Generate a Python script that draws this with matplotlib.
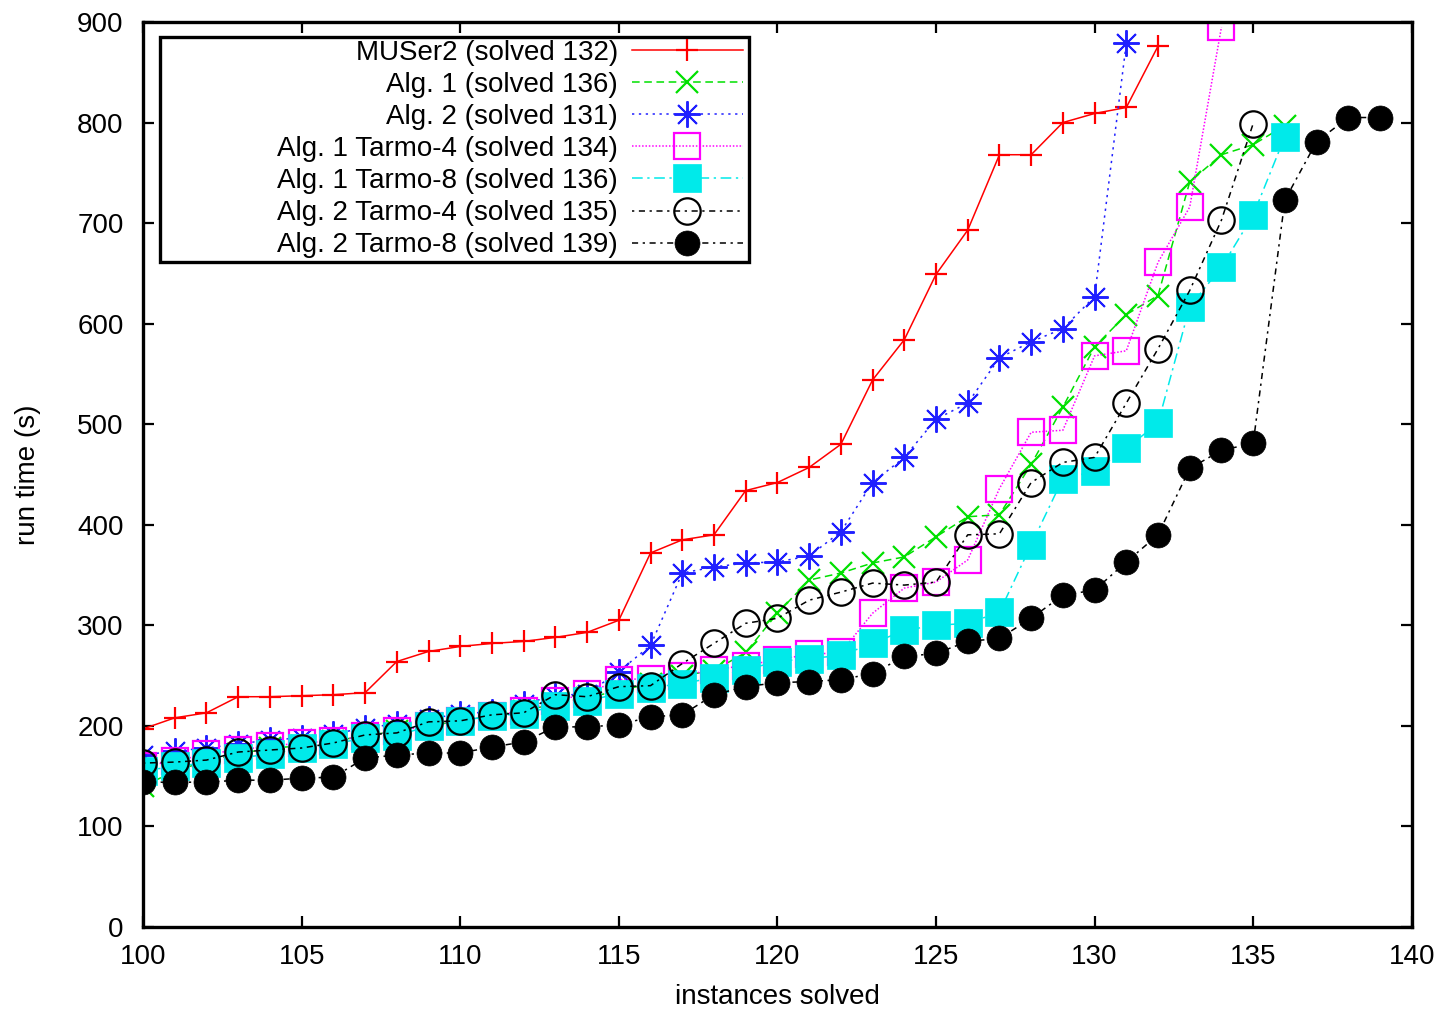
import numpy as np
import matplotlib.pyplot as plt
from matplotlib.patches import Rectangle

plt.rcParams['font.family'] = ['Liberation Sans', 'DejaVu Sans']

# run time (s) per instance count
muser2 = [197, 208, 213, 229, 229, 230, 231, 233, 264, 274, 279, 282, 284, 288, 293, 305,
          372, 385, 390, 434, 442, 457, 480, 544, 584, 649, 693, 768, 768, 800, 809, 815, 876]
alg1 = [140, 155, 165, 172, 178, 180, 185, 190, 195, 200, 205, 210, 215, 222, 228, 235,
        242, 250, 255, 273, 312, 345, 352, 362, 368, 388, 408, 410, 460, 517, 577, 609,
        628, 741, 768, 778, 797]
alg2 = [171, 175, 178, 182, 186, 188, 192, 198, 202, 207, 212, 214, 222, 230, 232, 254,
        280, 352, 358, 362, 363, 369, 393, 442, 467, 505, 521, 566, 582, 595, 627, 879]
alg1_t4 = [160, 165, 172, 176, 180, 183, 185, 190, 195, 200, 205, 210, 215, 225, 232, 246,
           247, 250, 256, 260, 266, 271, 273, 312, 337, 343, 365, 436, 492, 494, 568, 573,
           661, 716, 895]
alg1_t8 = [155, 160, 163, 168, 172, 178, 182, 188, 190, 200, 205, 210, 212, 220, 225, 232,
           238, 242, 248, 256, 264, 267, 270, 282, 295, 300, 302, 313, 380, 446, 453, 476,
           501, 617, 656, 708, 786]
alg2_t4 = [163, 164, 166, 174, 176, 178, 183, 191, 193, 204, 205, 211, 213, 231, 229, 239,
           240, 262, 282, 302, 307, 325, 333, 342, 340, 343, 390, 391, 442, 462, 467, 521,
           575, 633, 703, 799]
alg2_t8 = [144, 144, 144, 146, 146, 148, 149, 168, 171, 173, 173, 179, 184, 199, 199, 201,
           209, 211, 231, 239, 243, 244, 246, 252, 269, 272, 284, 287, 307, 330, 335, 363,
           390, 456, 474, 481, 723, 781, 805, 805]

labels = ['MUSer2 (solved 132)', 'Alg. 1 (solved 136)', 'Alg. 2 (solved 131)',
          'Alg. 1 Tarmo-4 (solved 134)', 'Alg. 1 Tarmo-8 (solved 136)',
          'Alg. 2 Tarmo-4 (solved 135)', 'Alg. 2 Tarmo-8 (solved 139)']

series = [muser2, alg1, alg2, alg1_t4, alg1_t8, alg2_t4, alg2_t8]

# gnuplot-ish styles: color, linestyle, marker, size, filled
styles = [
    dict(color='#ff0000', ls='-', marker='+', ms=16, mew=1.6, mfc='none'),
    dict(color='#00e000', ls=(0, (5, 3)), marker='x', ms=16, mew=1.6, mfc='none'),
    dict(color='#2020ff', ls=(0, (1.5, 3)), marker=(8, 2, 0), ms=19, mew=1.4, mfc='none'),
    dict(color='#ff00ff', ls=(0, (1, 1.2)), marker='s', ms=19, mew=1.6, mfc='none'),
    dict(color='#00eaea', ls=(0, (7, 3, 1.5, 3)), marker='s', ms=20, mew=0.5, mfc='#00eaea'),
    dict(color='black', ls=(0, (1.5, 3, 4, 3)), marker='o', ms=19, mew=1.6, mfc='none'),
    dict(color='black', ls=(0, (4, 3, 1.5, 3)), marker='o', ms=18, mew=0.5, mfc='black'),
]

FS = 20

fig = plt.figure(figsize=(14.45, 10.18), dpi=100)
ax = fig.add_axes([0.099, 0.0894, 0.878, 0.889])

for vals, lab, st in zip(series, labels, styles):
    xs = np.arange(100, 100 + len(vals))
    ax.plot(xs, vals, color=st['color'], linestyle=st['ls'], lw=1.1,
            marker=st['marker'], markersize=st['ms'], markeredgewidth=st['mew'],
            markerfacecolor=st['mfc'], markeredgecolor=st['color'],
            label=lab, clip_on=True)

ax.set_xlim(100, 140)
ax.set_ylim(0, 900)
ax.set_xticks(range(100, 141, 5))
ax.set_yticks(range(0, 901, 100))
ax.tick_params(direction='in', length=8, width=1.6, labelsize=FS, top=True, right=True)
ax.tick_params(axis='x', pad=12)
ax.tick_params(axis='y', pad=14)
for sp in ax.spines.values():
    sp.set_linewidth(2.4)

ax.set_xlabel('instances solved', fontsize=FS, labelpad=10)
ax.set_ylabel('run time (s)', fontsize=FS, labelpad=26)

# gnuplot-style key: text right-aligned, sample on the right, wide box
box = Rectangle((0.0134, 0.735), 0.4646, 0.248, transform=ax.transAxes,
                facecolor='white', edgecolor='black', lw=2.4, zorder=5)
ax.add_patch(box)
leg = ax.legend(loc='upper right', bbox_to_anchor=(0.476, 0.985), markerfirst=False,
                fontsize=FS, handlelength=4.0, labelspacing=0.22, borderpad=0.15,
                handletextpad=0.5, frameon=False, borderaxespad=0)
leg.set_zorder(6)
for t in leg.get_texts():
    t.set_ha('right')
leg._legend_box.align = 'right'

fig.savefig('out.png', dpi=100)
